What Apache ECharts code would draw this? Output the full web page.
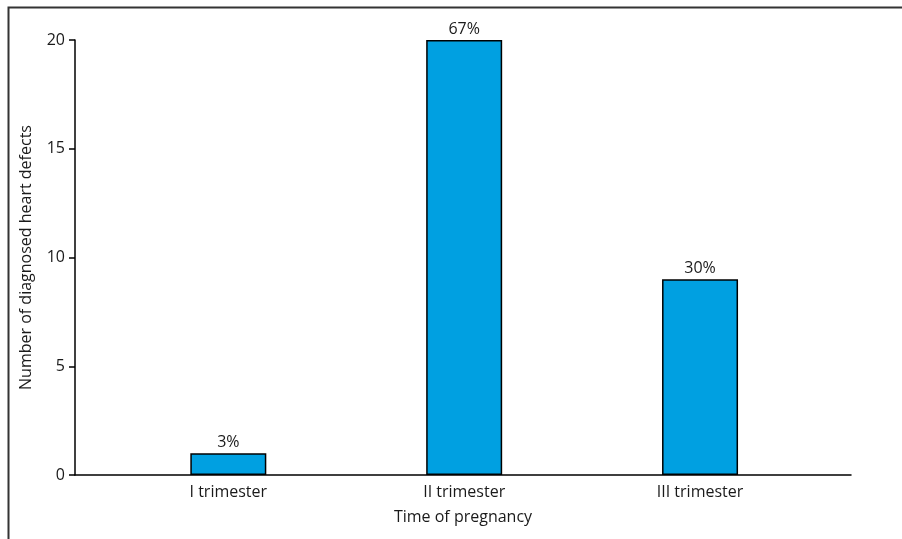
<!DOCTYPE html>
<html>
<head>
<meta charset="utf-8">
<script src="https://cdn.jsdelivr.net/npm/echarts@6/dist/echarts.min.js"></script>
<style>
  html, body { margin: 0; padding: 0; background: #fff; }
  #chart { width: 902px; height: 539px; }
</style>
</head>
<body>
<div id="chart"></div>
<script>
// Diagnosed heart defects by trimester
const categories = ['I trimester', 'II trimester', 'III trimester'];
const defects = [1, 20, 9];
const positions = [1, 2, 3];
const yTicks = [0, 5, 10, 15, 20];

const total = defects.reduce((a, b) => a + b, 0);
const FONT = '"Open Sans", "Noto Sans", sans-serif';
const TEXT = '#1a1a1a';

const chart = echarts.init(document.getElementById('chart'), null, { renderer: 'canvas' });

chart.setOption({
  animation: false,
  backgroundColor: '#fff',
  graphic: [{
    type: 'rect',
    left: 6, top: 5,
    shape: { width: 1000, height: 1000 },
    style: { fill: 'none', stroke: '#333', lineWidth: 2 },
    silent: true
  }],
  grid: { left: 75, right: 51, top: 40, bottom: 64 },
  xAxis: {
    type: 'value',
    min: 0.35,
    max: 3.64,
    name: 'Time of pregnancy',
    nameLocation: 'middle',
    nameGap: 34,
    nameTextStyle: { fontFamily: FONT, fontSize: 16, color: TEXT },
    axisLine: { show: true, onZero: false, lineStyle: { color: '#000', width: 1.5 } },
    axisTick: { show: false },
    splitLine: { show: false },
    axisLabel: {
      customValues: positions,
      formatter: v => categories[positions.indexOf(v)] || '',
      fontFamily: FONT, fontSize: 16, color: TEXT, margin: 9
    }
  },
  yAxis: {
    type: 'value',
    min: yTicks[0],
    max: yTicks[yTicks.length - 1],
    interval: 5,
    name: 'Number of diagnosed heart defects',
    nameLocation: 'middle',
    nameGap: 41,
    nameTextStyle: { fontFamily: FONT, fontSize: 16, color: TEXT },
    axisLine: { show: true, lineStyle: { color: '#000', width: 1.5 } },
    axisTick: { show: true, length: 6, lineStyle: { color: '#000', width: 1.5 } },
    splitLine: { show: false },
    axisLabel: { fontFamily: FONT, fontSize: 16, color: TEXT, margin: 10 }
  },
  series: [{
    type: 'bar',
    barWidth: 76,
    data: defects.map((v, i) => [positions[i], v]),
    itemStyle: { color: '#00A0E1', borderColor: '#000', borderWidth: 1.5 },
    label: {
      show: true,
      position: 'top',
      distance: 3,
      formatter: p => Math.round(p.value[1] / total * 100) + '%',
      fontFamily: FONT, fontSize: 16, color: TEXT
    }
  }]
});
</script>
</body>
</html>
